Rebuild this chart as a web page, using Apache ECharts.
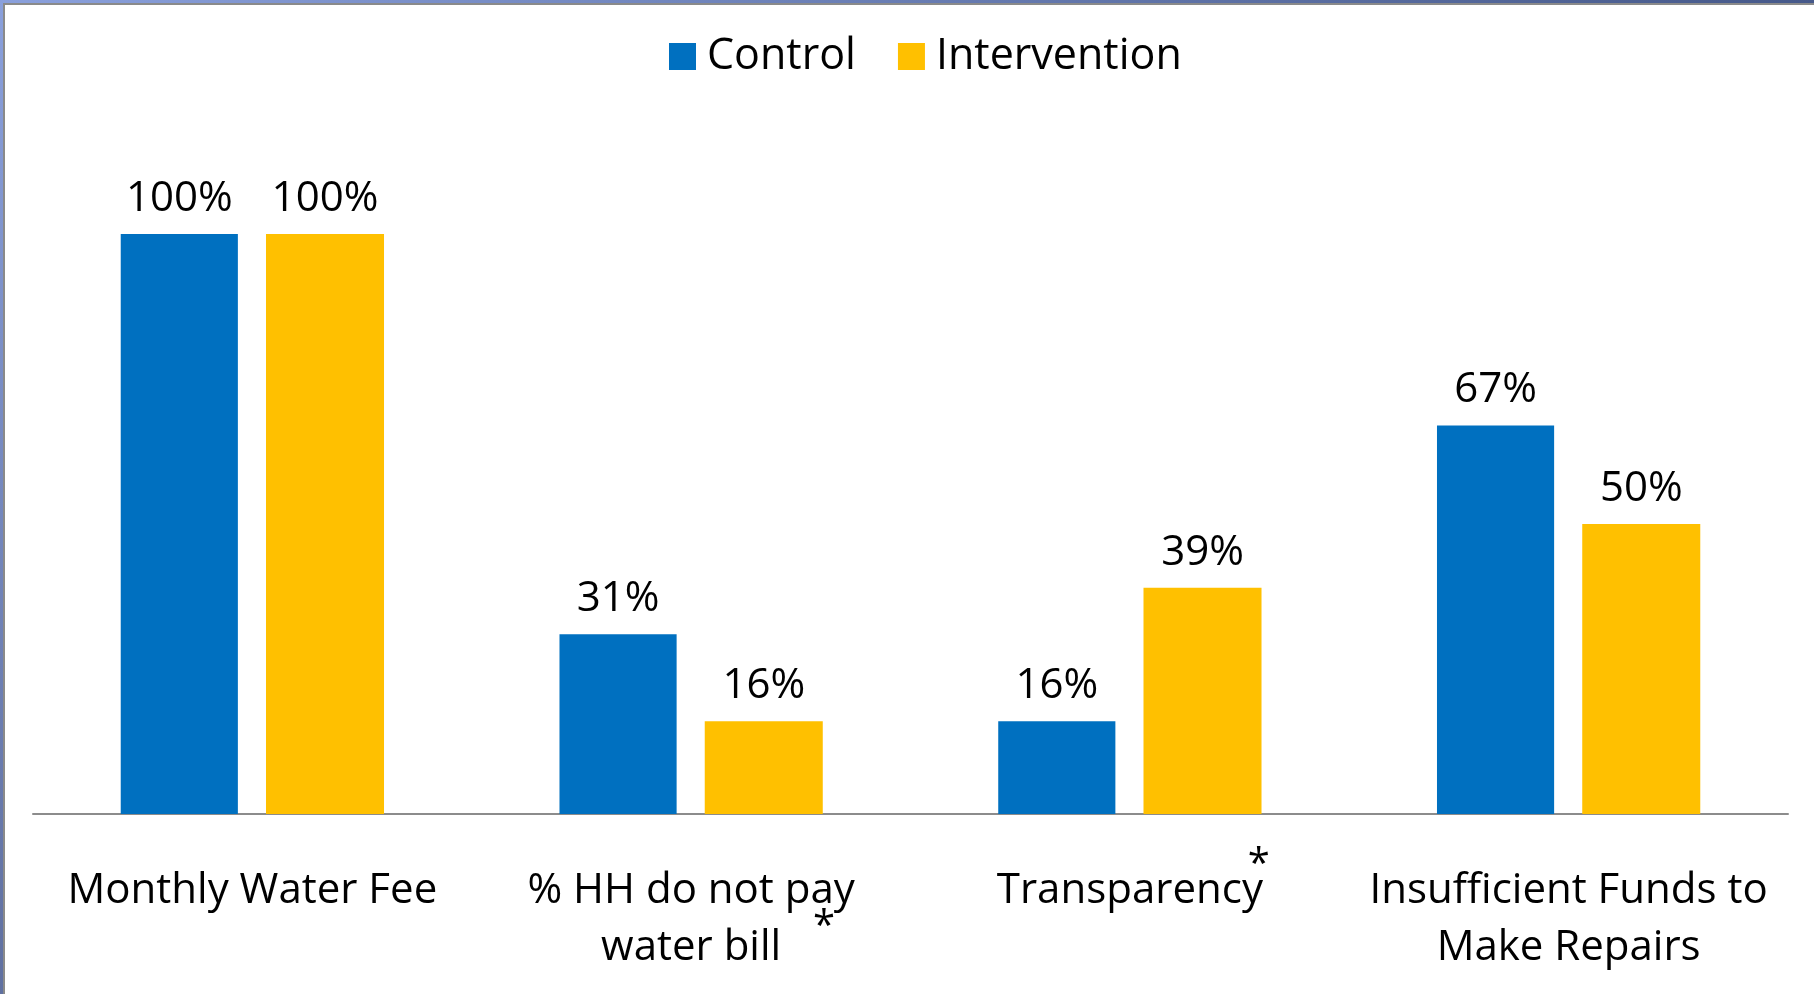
<!DOCTYPE html>
<html>
<head>
<meta charset="utf-8">
<script src="https://cdn.jsdelivr.net/npm/echarts@6/dist/echarts.min.js"></script>
<style>
  html, body { margin: 0; padding: 0; background: #ffffff; }
  #chart { width: 1814px; height: 994px; }
</style>
</head>
<body>
<div id="chart"></div>
<script>
// Survey results: share of water committees reporting each item
const categories = ['Monthly Water Fee', '% HH do not pay\nwater bill', 'Transparency', 'Insufficient Funds to\nMake Repairs'];
const seriesNames = ['Control', 'Intervention'];
const controlValues = [100, 31, 16, 67];
const interventionValues = [100, 16, 39, 50];
// categories whose difference is statistically significant
const significantIndex = [1, 2];

const FONT = '"Open Sans", sans-serif';
const chart = echarts.init(document.getElementById('chart'));

const valueLabel = {
  show: true,
  position: 'top',
  distance: 14,
  formatter: '{c}%',
  color: '#000000',
  fontFamily: FONT,
  fontSize: 42
};

chart.setOption({
  animation: false,
  backgroundColor: '#ffffff',
  legend: {
    data: seriesNames,
    left: 664,
    top: 30,
    icon: 'rect',
    itemWidth: 27,
    itemHeight: 27,
    itemGap: 42,
    textStyle: { fontFamily: FONT, fontSize: 43, color: '#000000', padding: [0, 0, 0, 6] }
  },
  grid: { left: 33, right: 26, top: 234, bottom: 180, containLabel: false },
  xAxis: {
    type: 'category',
    data: categories,
    axisLine: { show: true, lineStyle: { color: '#8c8c8c', width: 2 } },
    axisTick: { show: false },
    axisLabel: {
      interval: 0,
      margin: 49,
      color: '#000000',
      fontFamily: FONT,
      fontSize: 42,
      lineHeight: 57
    }
  },
  yAxis: {
    type: 'value',
    min: 0,
    max: 100,
    show: false,
    splitLine: { show: false }
  },
  series: [
    {
      name: seriesNames[0],
      type: 'bar',
      data: controlValues,
      barWidth: '26.7%',
      barGap: '24%',
      itemStyle: { color: '#0070C0' },
      label: valueLabel
    },
    {
      name: seriesNames[1],
      type: 'bar',
      data: interventionValues,
      barWidth: '26.9%',
      itemStyle: { color: '#FFC000' },
      label: valueLabel
    }
  ]
});

// Frame along the top and left edges, plus significance markers next to category labels
const W = 1814, H = 994;
const graphics = [
  {
    type: 'rect', shape: { x: 0, y: 0, width: W, height: 3 },
    style: { fill: new echarts.graphic.LinearGradient(0, 0, 1, 0, [
      { offset: 0, color: '#8aa0dc' }, { offset: 1, color: '#46598a' }]) },
    silent: true
  },
  { type: 'rect', shape: { x: 3, y: 3, width: W, height: 2 }, style: { fill: '#8a8a8a' }, silent: true },
  {
    type: 'rect', shape: { x: 0, y: 0, width: 3, height: H },
    style: { fill: new echarts.graphic.LinearGradient(0, 0, 0, 1, [
      { offset: 0, color: '#8aa0dc' }, { offset: 1, color: '#6070a0' }]) },
    silent: true
  },
  { type: 'rect', shape: { x: 3, y: 3, width: 2, height: H }, style: { fill: '#8a8a8a' }, silent: true }
];

const markerOffsets = { 1: { dx: 133, y: 928 }, 2: { dx: 129, y: 866 } };
significantIndex.forEach(function (i) {
  const cx = chart.convertToPixel({ xAxisIndex: 0 }, i);
  const off = markerOffsets[i];
  graphics.push({
    type: 'text',
    x: cx + off.dx,
    y: off.y,
    style: {
      text: '*',
      fill: '#000000',
      font: '40px "Open Sans", sans-serif',
      align: 'center',
      verticalAlign: 'middle'
    },
    silent: true
  });
});

chart.setOption({ graphic: graphics });
</script>
</body>
</html>
